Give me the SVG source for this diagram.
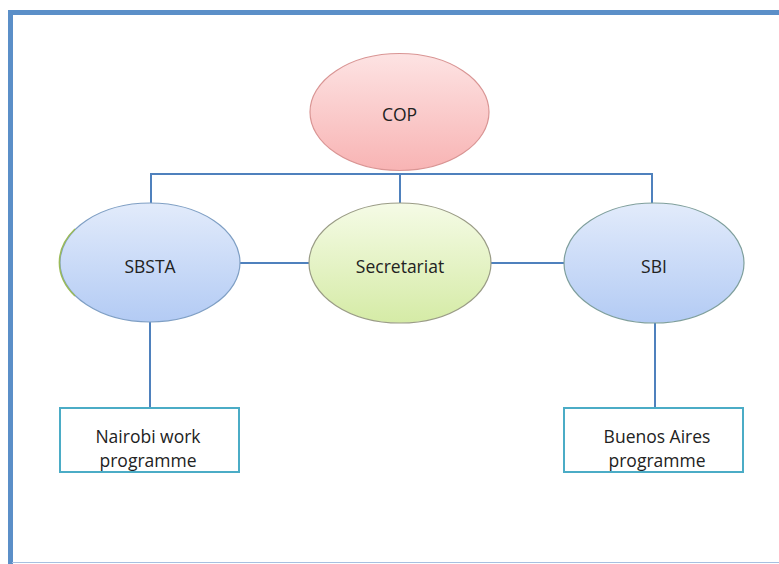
<svg xmlns="http://www.w3.org/2000/svg" width="779" height="564" viewBox="0 0 779 564">
<defs>
<linearGradient id="gRed" x1="0" y1="0" x2="0" y2="1"><stop offset="0" stop-color="#fde3e3"/><stop offset="1" stop-color="#f8b4b4"/></linearGradient>
<linearGradient id="gBlue" x1="0" y1="0" x2="0" y2="1"><stop offset="0" stop-color="#e2ebfb"/><stop offset="1" stop-color="#b3cbf4"/></linearGradient>
<linearGradient id="gGreen" x1="0" y1="0" x2="0" y2="1"><stop offset="0" stop-color="#f5fbe6"/><stop offset="1" stop-color="#d5eba6"/></linearGradient>
<style>
.t{font-family:"Open Sans","Liberation Sans",sans-serif;font-size:17.5px;fill:#222;text-anchor:middle}
.c{stroke:#4f81bd;stroke-width:2;fill:none}
.box{fill:#ffffff;stroke:#4bacc6;stroke-width:2}
</style>
</defs>
<rect width="779" height="564" fill="#ffffff"/>
<path d="M10.5 564 V12.5 H779" fill="none" stroke="#5b8fc8" stroke-width="5"/>
<line x1="12" y1="562.5" x2="779" y2="562.5" stroke="#a7c0e0" stroke-width="1"/>
<g id="connectors">
<path class="c" d="M151 203 V174 H652 V203"/>
<path class="c" d="M400 174 V203"/>
<path class="c" d="M240 263 H309"/>
<path class="c" d="M491 263 H564"/>
<path class="c" d="M150 322 V408"/>
<path class="c" d="M655 323 V408"/>
</g>
<g id="cop">
<ellipse cx="399.5" cy="112" rx="89.5" ry="58.5" fill="url(#gRed)" stroke="#d99594" stroke-width="1.2"/>
<text class="t" x="399.5" y="121">COP</text>
</g>
<g id="sbsta">
<ellipse cx="150" cy="262.5" rx="90" ry="59.5" fill="url(#gBlue)" stroke="#7f9fc4" stroke-width="1.2"/>
<path d="M75 296 A90 59.5 0 0 1 75 229" fill="none" stroke="#9bbb59" stroke-width="1.5"/>
<text class="t" x="150" y="273">SBSTA</text>
</g>
<g id="secretariat">
<ellipse cx="400" cy="263" rx="91" ry="60" fill="url(#gGreen)" stroke="#9a9c86" stroke-width="1.2"/>
<text class="t" x="400" y="273">Secretariat</text>
</g>
<g id="sbi">
<ellipse cx="654" cy="263" rx="90" ry="60" fill="url(#gBlue)" stroke="#7f9f9c" stroke-width="1.2"/>
<text class="t" x="654" y="273">SBI</text>
</g>
<g id="nairobi">
<rect class="box" x="60" y="408" width="179" height="64"/>
<text class="t" x="148" y="443">Nairobi work</text>
<text class="t" x="148" y="467">programme</text>
</g>
<g id="buenosaires">
<rect class="box" x="564" y="408" width="179" height="64"/>
<text class="t" x="657" y="443">Buenos Aires</text>
<text class="t" x="657" y="467">programme</text>
</g>
</svg>
